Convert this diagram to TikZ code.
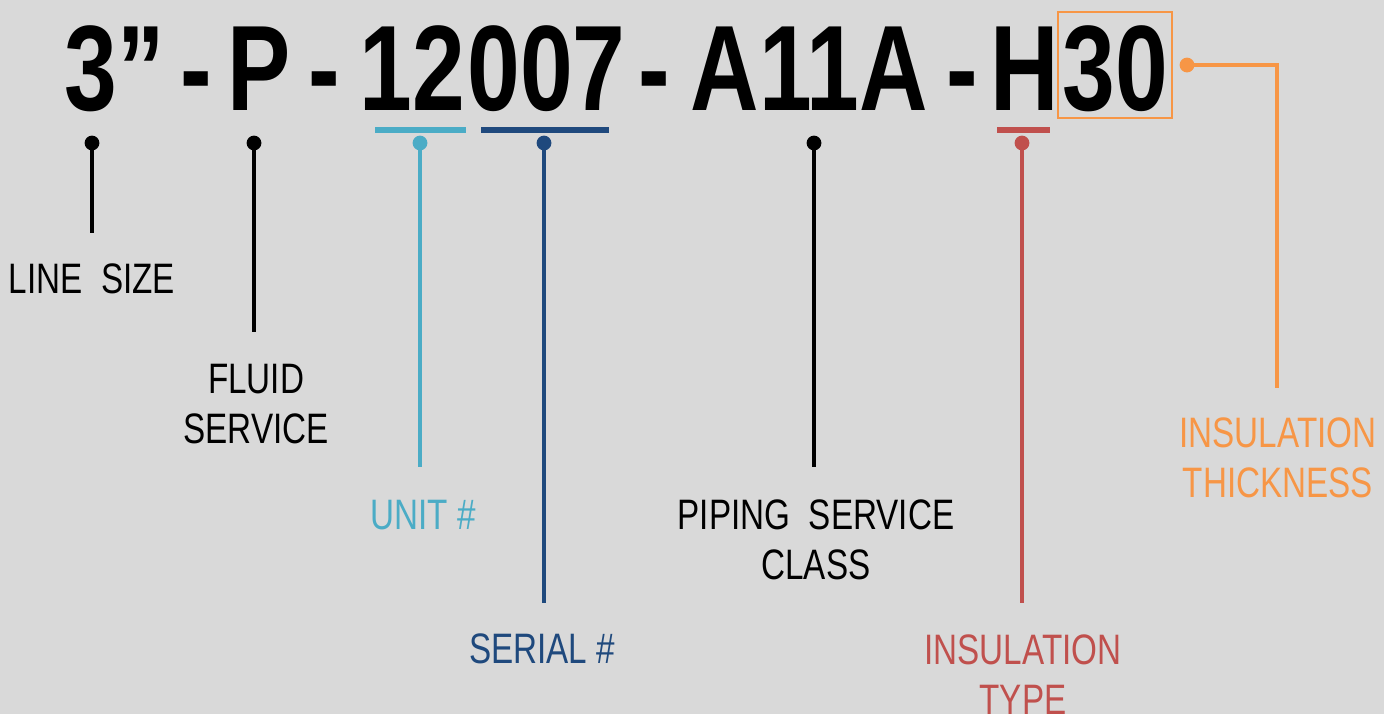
\documentclass[tikz,border=0pt]{standalone}
\usepackage{fontspec}
\setmainfont{Liberation Sans}[FakeStretch=0.78]
\usetikzlibrary{calc}

\definecolor{sfondo}{HTML}{D9D9D9}
\definecolor{unita}{HTML}{4BACC6}
\definecolor{seriale}{HTML}{1F497D}
\definecolor{isol}{HTML}{C0504D}
\definecolor{spess}{HTML}{F79646}

\tikzset{
  codice/.style={inner sep=0pt, anchor=base, font=\fontsize{60.75}{70}\selectfont\bfseries},
  etichetta/.style={inner sep=0pt, anchor=base, align=center, font=\fontsize{21.3}{25}\selectfont},
  guida/.style={line width=2pt},
  segno/.style={line width=3pt}
}

\begin{document}
\begin{tikzpicture}[x=0.5pt,y=-0.5pt]
  % sfondo
  \path[fill=sfondo, use as bounding box] (0,0) rectangle (1384,714);

  % codice
  \def\yb{110}
  \node[codice] (size)   at (115,\yb)  {3”};
  \node[codice] (d1)     at (196,\yb)  {-};
  \node[codice] (fluid)  at (259.5,\yb) {P};
  \node[codice] (d2)     at (324.5,\yb) {-};
  \node[codice] (unitno) at (412.5,\yb) {12};
  \node[codice] (serno)  at (546.5,\yb) {007};
  \node[codice] (d3)     at (654.5,\yb) {-};
  \node[codice] (class)  at (809.5,\yb) {A11A};
  \node[codice] (d4)     at (962.5,\yb) {-};
  \node[codice] (itype)  at (1024.5,\yb) {H};
  \node[codice, draw=spess, line width=1pt, inner xsep=2pt,
        text height=49pt, text depth=4pt] (ithick) at (1115,\yb) {30};

  % sottolineature
  \draw[segno, unita]   (375,130) -- (466,130);
  \draw[segno, seriale] (481,130) -- (609,130);
  \draw[segno, isol]    (997,130) -- (1050,130);

  % punti
  \def\r{3.7pt}
  \coordinate (Ps) at (92,143);   \coordinate (Es) at (92,233);
  \coordinate (Pf) at (254,143);  \coordinate (Ef) at (254,332);
  \coordinate (Pu) at (420,143);  \coordinate (Eu) at (420,467);
  \coordinate (Pn) at (544,143);  \coordinate (En) at (544,603);
  \coordinate (Pc) at (814,143);  \coordinate (Ec) at (814,467);
  \coordinate (Pi) at (1022,143); \coordinate (Ei) at (1022,603);
  \coordinate (Pt) at (1187,65);  \coordinate (Kt) at (1277,65);
  \coordinate (Et) at (1277,388);

  \fill (Ps) circle (\r);
  \fill (Pf) circle (\r);
  \fill[unita] (Pu) circle (\r);
  \fill[seriale] (Pn) circle (\r);
  \fill (Pc) circle (\r);
  \fill[isol] (Pi) circle (\r);
  \fill[spess] (Pt) circle (\r);

  % guide
  \draw[guida] (Ps) -- (Es);
  \draw[guida] (Pf) -- (Ef);
  \draw[guida, unita] (Pu) -- (Eu);
  \draw[guida, seriale] (Pn) -- (En);
  \draw[guida] (Pc) -- (Ec);
  \draw[guida, isol] (Pi) -- (Ei);
  \draw[guida, spess] (Pt) -- (Kt) -- (Et);

  % etichette (base = ultima riga)
  \node[etichetta] (Lsize) at (92,293) {LINE\ \ SIZE};
  \node[etichetta] (Lfluid) at (256,443) {FLUID\\SERVICE};
  \node[etichetta, text=unita] (Lunit) at (423,529) {UNIT \#};
  \node[etichetta, text=seriale] (Lserial) at (542,663) {SERIAL \#};
  \node[etichetta] (Lclass) at (816,579) {PIPING\ \ SERVICE\\CLASS};
  \node[etichetta, text=isol] (Ltype) at (1023,714) {INSULATION\\TYPE};
  \node[etichetta, text=spess] (Lthick) at (1278,497) {INSULATION\\THICKNESS};
\end{tikzpicture}
\end{document}
